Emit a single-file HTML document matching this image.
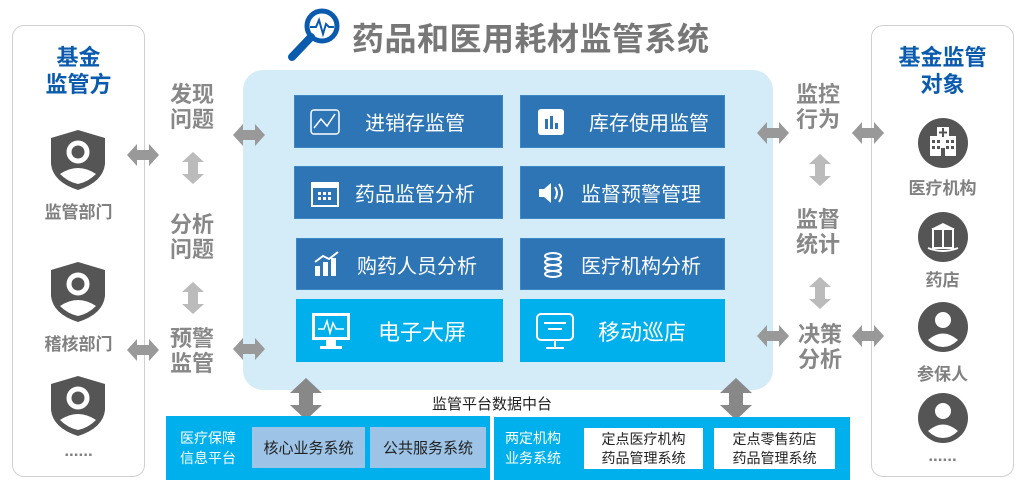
<!DOCTYPE html>
<html><head><meta charset="utf-8"><style>
*{margin:0;padding:0;box-sizing:border-box}
body{width:1024px;height:486px;background:#fff;position:relative;overflow:hidden;font-family:"Liberation Sans","Noto Sans CJK SC",sans-serif}
.a{position:absolute}
.panel{border:1.5px solid #d0d0d0;border-radius:12px;background:#fff}
.hd{color:#0a5aad;font-weight:bold;font-size:22px;line-height:27px;text-align:center}
.lb{color:#888;font-weight:bold;font-size:22px;line-height:25px;text-align:center}
.sl{color:#808080;font-weight:bold;font-size:17px;text-align:center}
.btn{background:#2e75b6;color:#fff;font-size:20px;display:flex;align-items:center;border:1px solid #3b87c8}
.btn2{background:#00b0ec;color:#fff;font-size:22px;display:flex;align-items:center}
.ic{width:60px;display:flex;justify-content:center}
</style></head><body>

<svg class="a" style="left:284px;top:4px" width="62" height="58" viewBox="0 0 62 58">
<circle cx="38" cy="22" r="15" fill="#fff" stroke="#0a5aad" stroke-width="5"/>
<polyline points="26,23 32,23 35,16 39,30 42,20 45,23 50,23" fill="none" stroke="#0a5aad" stroke-width="2"/>
<line x1="27" y1="33" x2="8" y2="53" stroke="#0a5aad" stroke-width="8" stroke-linecap="round"/>
</svg>
<div class="a" style="left:352px;top:14px;font-size:32px;font-weight:bold;color:#777;letter-spacing:0.5px">药品和医用耗材监管系统</div>

<div class="a panel" style="left:12px;top:25px;width:133px;height:452px"></div>
<div class="a hd" style="left:12px;top:44px;width:133px">基金<br>监管方</div>
<svg class="a" style="left:48px;top:128px" width="60" height="64" viewBox="0 0 60 64"><path d="M30 2 L57 10 L57 36 Q55 54 30 62 Q5 54 3 36 L3 10 Z" fill="#555"/><circle cx="30" cy="24" r="9" fill="none" stroke="#fff" stroke-width="5"/><path d="M12 46 Q30 34 48 46 Q40 54 30 56 Q20 54 12 46Z" fill="#fff"/></svg>
<div class="a sl" style="left:12px;top:198px;width:133px">监管部门</div>
<svg class="a" style="left:48px;top:260px" width="60" height="64" viewBox="0 0 60 64"><path d="M30 2 L57 10 L57 36 Q55 54 30 62 Q5 54 3 36 L3 10 Z" fill="#555"/><circle cx="30" cy="24" r="9" fill="none" stroke="#fff" stroke-width="5"/><path d="M12 46 Q30 34 48 46 Q40 54 30 56 Q20 54 12 46Z" fill="#fff"/></svg>
<div class="a sl" style="left:12px;top:330px;width:133px">稽核部门</div>
<svg class="a" style="left:48px;top:374px" width="60" height="64" viewBox="0 0 60 64"><path d="M30 2 L57 10 L57 36 Q55 54 30 62 Q5 54 3 36 L3 10 Z" fill="#555"/><circle cx="30" cy="24" r="9" fill="none" stroke="#fff" stroke-width="5"/><path d="M12 46 Q30 34 48 46 Q40 54 30 56 Q20 54 12 46Z" fill="#fff"/></svg>
<div class="a sl" style="left:12px;top:441px;width:133px">......</div>

<div class="a panel" style="left:871px;top:25px;width:143px;height:452px"></div>
<div class="a hd" style="left:871px;top:44px;width:143px">基金监管<br>对象</div>
<svg class="a" style="left:918px;top:118px" width="50" height="50"><circle cx="25" cy="25" r="25" fill="#555"/><rect x="12" y="18" width="26" height="20" fill="#fff"/><rect x="19" y="9" width="12" height="11" fill="#fff"/><path d="M25 10v9M21 14.5h8" stroke="#555" stroke-width="2"/><g fill="#555"><rect x="14" y="22" width="3" height="3"/><rect x="19" y="22" width="3" height="3"/><rect x="28" y="22" width="3" height="3"/><rect x="33" y="22" width="3" height="3"/><rect x="14" y="28" width="3" height="3"/><rect x="19" y="28" width="3" height="3"/><rect x="28" y="28" width="3" height="3"/><rect x="33" y="28" width="3" height="3"/><rect x="23" y="30" width="4" height="8"/></g></svg>
<div class="a sl" style="left:871px;top:174px;width:143px">医疗机构</div>
<svg class="a" style="left:918px;top:212px" width="50" height="50"><circle cx="25" cy="25" r="25" fill="#555"/><path d="M15 17 L35 17 L35 36 L15 36Z" fill="none" stroke="#fff" stroke-width="2"/><path d="M13 17 L25 11 L37 17Z" fill="#fff"/><line x1="25" y1="17" x2="25" y2="36" stroke="#fff" stroke-width="2"/><path d="M10 36 Q25 42 40 36" fill="none" stroke="#fff" stroke-width="2"/></svg>
<div class="a sl" style="left:871px;top:266px;width:143px">药店</div>
<svg class="a" style="left:918px;top:302px" width="50" height="50"><circle cx="25" cy="25" r="25" fill="#555"/><circle cx="25" cy="18" r="8" fill="#fff"/><path d="M10 38 Q25 25 40 38 Q33 45 25 45 Q17 45 10 38Z" fill="#fff"/></svg>
<div class="a sl" style="left:871px;top:360px;width:143px">参保人</div>
<svg class="a" style="left:918px;top:393px" width="50" height="50"><circle cx="25" cy="25" r="25" fill="#555"/><circle cx="25" cy="18" r="8" fill="#fff"/><path d="M10 38 Q25 25 40 38 Q33 45 25 45 Q17 45 10 38Z" fill="#fff"/></svg>
<div class="a sl" style="left:871px;top:446px;width:143px">......</div>

<div class="a" style="left:243px;top:70px;width:530px;height:320px;background:#d4ebf8;border-radius:20px"></div>

<div class="a btn" style="left:294px;top:95px;width:209px;height:53px"><div class="ic"><svg width="32" height="28"><rect x="2" y="2" width="28" height="24" rx="3" fill="none" stroke="#fff" stroke-width="1.5"/><polyline points="5,20 12,11 18,18 26,6" fill="none" stroke="#fff" stroke-width="1.5"/></svg></div><span style="margin-left:10px">进销存监管</span></div>
<div class="a btn" style="left:520px;top:95px;width:205px;height:53px"><div class="ic"><svg width="28" height="28"><rect x="1" y="1" width="26" height="26" rx="3" fill="#fff"/><rect x="8" y="11" width="3" height="10" fill="#2e75b6"/><rect x="13" y="8" width="3" height="13" fill="#2e75b6"/><rect x="18" y="15" width="3" height="6" fill="#2e75b6"/></svg></div><span style="margin-left:8px">库存使用监管</span></div>
<div class="a btn" style="left:294px;top:166px;width:209px;height:53px"><div class="ic"><svg width="30" height="30"><rect x="2" y="5" width="26" height="23" fill="none" stroke="#fff" stroke-width="2"/><rect x="2" y="5" width="26" height="5" fill="#fff"/><g fill="#fff"><rect x="8" y="14" width="3" height="3"/><rect x="13" y="14" width="3" height="3"/><rect x="18" y="14" width="3" height="3"/><rect x="8" y="19" width="3" height="3"/><rect x="13" y="19" width="3" height="3"/><rect x="18" y="19" width="3" height="3"/></g></svg></div><span>药品监管分析</span></div>
<div class="a btn" style="left:520px;top:166px;width:205px;height:53px"><div class="ic"><svg width="30" height="28"><path d="M3 10h5l7-6v20l-7-6H3Z" fill="#fff"/><path d="M19 8q4 6 0 12M23 5q6 9 0 18" fill="none" stroke="#fff" stroke-width="2"/></svg></div><span>监督预警管理</span></div>
<div class="a btn" style="left:296px;top:238px;width:207px;height:52px"><div class="ic"><svg width="30" height="28"><rect x="3" y="16" width="5" height="10" fill="#fff"/><rect x="11" y="12" width="5" height="14" fill="#fff"/><rect x="19" y="8" width="5" height="18" fill="#fff"/><polyline points="3,12 11,6 17,9 26,2" fill="none" stroke="#fff" stroke-width="2"/></svg></div><span>购药人员分析</span></div>
<div class="a btn" style="left:520px;top:238px;width:205px;height:52px"><div class="ic"><svg width="30" height="28"><g fill="none" stroke="#fff" stroke-width="2"><ellipse cx="17" cy="6" rx="8" ry="3"/><ellipse cx="17" cy="12" rx="8" ry="3"/><ellipse cx="17" cy="18" rx="8" ry="3"/><ellipse cx="17" cy="24" rx="8" ry="3"/></g></svg></div><span>医疗机构分析</span></div>
<div class="a btn2" style="left:296px;top:299px;width:207px;height:63px"><div class="ic" style="width:70px"><svg width="42" height="40"><rect x="2" y="2" width="38" height="27" fill="#fff"/><rect x="5" y="5" width="32" height="21" fill="#00b0ec"/><polyline points="8,18 14,18 17,10 20,22 23,12 26,18 34,18" fill="none" stroke="#fff" stroke-width="1.5"/><rect x="16" y="29" width="10" height="6" fill="#fff"/><rect x="10" y="35" width="22" height="3" fill="#fff"/></svg></div><span style="margin-left:12px">电子大屏</span></div>
<div class="a btn2" style="left:520px;top:299px;width:205px;height:63px"><div class="ic" style="width:70px"><svg width="42" height="40"><rect x="3" y="3" width="36" height="26" rx="4" fill="none" stroke="#fff" stroke-width="2"/><line x1="10" y1="12" x2="32" y2="12" stroke="#fff" stroke-width="2"/><line x1="14" y1="18" x2="28" y2="18" stroke="#fff" stroke-width="2"/><line x1="21" y1="29" x2="21" y2="36" stroke="#fff" stroke-width="2"/><line x1="12" y1="37" x2="30" y2="37" stroke="#fff" stroke-width="2"/></svg></div><span style="margin-left:8px">移动巡店</span></div>

<div class="a lb" style="left:166px;top:82px;width:52px">发现<br>问题</div>
<div class="a lb" style="left:166px;top:212px;width:52px">分析<br>问题</div>
<div class="a lb" style="left:166px;top:326px;width:52px">预警<br>监管</div>
<div class="a lb" style="left:792px;top:82px;width:52px">监控<br>行为</div>
<div class="a lb" style="left:792px;top:207px;width:52px">监督<br>统计</div>
<div class="a lb" style="left:794px;top:322px;width:52px">决策<br>分析</div>

<svg class="a" style="left:0;top:0" width="1024" height="486">
<defs>
<path id="h" d="M0 0 L10 -11 L10 -5 L22 -5 L22 -11 L32 0 L22 11 L22 5 L10 5 L10 11Z"/>
<path id="v" d="M0 0 L-11 10 L-5 10 L-5 22 L-11 22 L0 32 L11 22 L5 22 L5 10 L11 10Z"/>
</defs>
<g fill="#999">
<use href="#h" x="127" y="155"/><use href="#h" x="127" y="350"/>
<use href="#h" x="233" y="135"/><use href="#h" x="233" y="349"/>
<use href="#h" x="757" y="133"/><use href="#h" x="852" y="133"/>
<use href="#h" x="757" y="336"/><use href="#h" x="852" y="336"/>
</g>
<g fill="#bbb">
<use href="#v" x="193" y="152"/><use href="#v" x="193" y="282"/>
<use href="#v" x="820" y="154"/><use href="#v" x="820" y="277"/>
</g>
<g fill="#888">
<path d="M306 378 L322 393 L313 393 L313 405 L322 405 L306 420 L290 405 L299 405 L299 393 L290 393Z"/>
<path d="M736 378 L752 393 L743 393 L743 405 L752 405 L736 420 L720 405 L729 405 L729 393 L720 393Z"/>
</g>
</svg>

<div class="a" style="left:432px;top:393px;font-size:15px;color:#222">监管平台数据中台</div>

<div class="a" style="left:166px;top:416px;width:324px;height:64px;background:#00b0ec"></div>
<div class="a" style="left:180px;top:428px;color:#fff;font-size:14px;line-height:20px">医疗保障<br>信息平台</div>
<div class="a" style="left:252px;top:427px;width:113px;height:41px;background:#9dc3e6;color:#222;font-size:15px;display:flex;align-items:center;justify-content:center">核心业务系统</div>
<div class="a" style="left:370px;top:427px;width:116px;height:41px;background:#9dc3e6;color:#222;font-size:15px;display:flex;align-items:center;justify-content:center">公共服务系统</div>
<div class="a" style="left:494px;top:417px;width:356px;height:63px;background:#00b0ec"></div>
<div class="a" style="left:505px;top:428px;color:#fff;font-size:14px;line-height:20px">两定机构<br>业务系统</div>
<div class="a" style="left:584px;top:428px;width:119px;height:41px;background:#fff;color:#222;font-size:14px;line-height:19px;text-align:center;padding-top:2px">定点医疗机构<br>药品管理系统</div>
<div class="a" style="left:714px;top:428px;width:121px;height:41px;background:#fff;color:#222;font-size:14px;line-height:19px;text-align:center;padding-top:2px">定点零售药店<br>药品管理系统</div>

</body></html>
